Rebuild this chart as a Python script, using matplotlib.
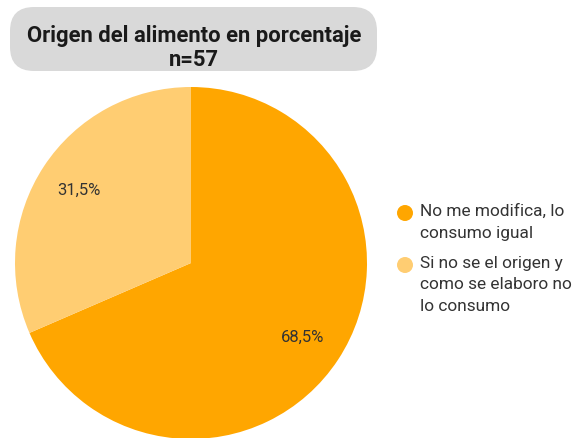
import matplotlib
matplotlib.use("Agg")
import matplotlib.pyplot as plt
from matplotlib.patches import FancyBboxPatch, Circle

categories = ["No me modifica, lo\nconsumo igual", "Si no se el origen y\ncomo se elaboro no\nlo consumo"]
values = [68.5, 31.5]
colors = ["#FFA600", "#FFCD72"]
title = "Origen del alimento en porcentaje\nn=57"

W, H = 575, 439
fig = plt.figure(figsize=(W / 100, H / 100), dpi=100)
ax = fig.add_axes([0, 0, 1, 1])

wedges, texts, autotexts = ax.pie(
    values, colors=colors, startangle=90, counterclock=False,
    center=(191, H - 264), radius=176, frame=True,
    autopct=lambda p: f"{p:.1f}%".replace(".", ","), pctdistance=0.76,
    textprops=dict(fontsize=12, color="#333333", family="Roboto"),
)
ax.set_xlim(0, W)
ax.set_ylim(0, H)
ax.set_aspect("equal")
ax.axis("off")

box = FancyBboxPatch((10, H - 72), 367, 64, boxstyle="round,pad=0,rounding_size=24",
                     fc="#D9D9D9", ec="none")
ax.add_patch(box)
ax.text(194, H - 48, title, ha="center", va="center", fontsize=15.8, fontweight="bold",
        family="Roboto", color="#1a1a1a", linespacing=1.15)

# manual legend
line_h = 22.5
y = 214
for cat, col in zip(categories, colors):
    ax.add_patch(Circle((405, H - y), 8, fc=col, ec="none"))
    ax.text(420, H - y + 10, cat, ha="left", va="top", fontsize=12.4, family="Roboto",
            color="#333333", linespacing=1.54)
    nlines = cat.count("\n") + 1
    y += nlines * line_h + 7

fig.savefig("out.png", dpi=100)
